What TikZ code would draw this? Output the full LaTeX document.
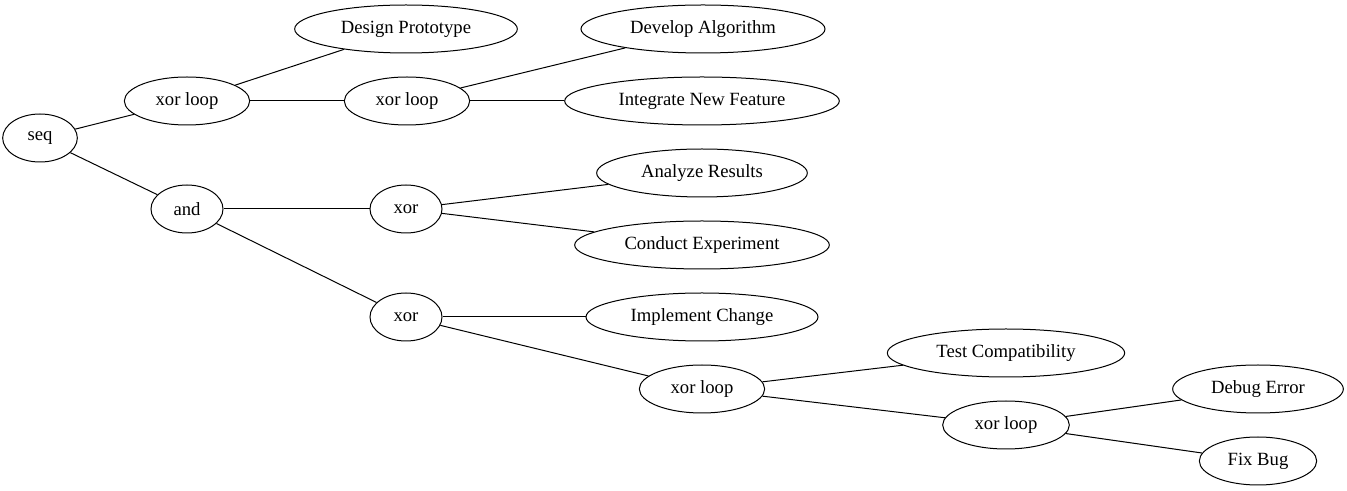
\documentclass[tikz,border=0pt]{standalone}
\usepackage{fontspec}
\setmainfont{Liberation Serif}
\newfontfamily\labelfont{Liberation Serif}
\usetikzlibrary{shapes.geometric}
\tikzstyle{op}   = [ellipse, draw, inner sep=0pt, minimum height=36pt, font=\labelfont\fontsize{14pt}{16pt}\selectfont]
\tikzstyle{task} = [op]
\tikzstyle{edge} = [draw, line width=0.75pt]

\begin{document}
\begin{tikzpicture}[x=0.75pt, y=-0.75pt, line width=0.75pt]
		\useasboundingbox (0,0) rectangle (1347,491);
		\node[op, minimum width=56pt] (seq) at (40,138) {seq};
		\node[op, minimum width=94pt] (loopA) at (187,101) {xor loop};
		\node[op, minimum width=54pt] (and) at (187,209) {and};
		\node[task, minimum width=167pt] (design) at (406,29) {Design Prototype};
		\node[op, minimum width=94pt] (loopB) at (407,101) {xor loop};
		\node[task, minimum width=183pt] (develop) at (703,29) {Develop Algorithm};
		\node[task, minimum width=206pt] (integrate) at (702,101) {Integrate New Feature};
		\node[op, minimum width=54pt] (xorA) at (406,209) {xor};
		\node[task, minimum width=158pt] (analyze) at (702,173) {Analyze Results};
		\node[task, minimum width=191pt] (conduct) at (702,245) {Conduct Experiment};
		\node[op, minimum width=54pt] (xorB) at (406,317) {xor};
		\node[task, minimum width=174pt] (implement) at (702,317) {Implement Change};
		\node[op, minimum width=94pt] (loopC) at (702,389) {xor loop};
		\node[task, minimum width=178pt] (test) at (1006,353) {Test Compatibility};
		\node[op, minimum width=95pt] (loopD) at (1006,425) {xor loop};
		\node[task, minimum width=128pt] (debug) at (1258,389) {Debug Error};
		\node[task, minimum width=88pt] (fix) at (1258,461) {Fix Bug};

		\path[edge] (seq) -- (loopA);
		\path[edge] (seq) -- (and);
		\path[edge] (loopA) -- (design);
		\path[edge] (loopA) -- (loopB);
		\path[edge] (loopB) -- (develop);
		\path[edge] (loopB) -- (integrate);
		\path[edge] (and) -- (xorA);
		\path[edge] (and) -- (xorB);
		\path[edge] (xorA) -- (analyze);
		\path[edge] (xorA) -- (conduct);
		\path[edge] (xorB) -- (implement);
		\path[edge] (xorB) -- (loopC);
		\path[edge] (loopC) -- (test);
		\path[edge] (loopC) -- (loopD);
		\path[edge] (loopD) -- (debug);
		\path[edge] (loopD) -- (fix);
	\end{tikzpicture}
\end{document}
